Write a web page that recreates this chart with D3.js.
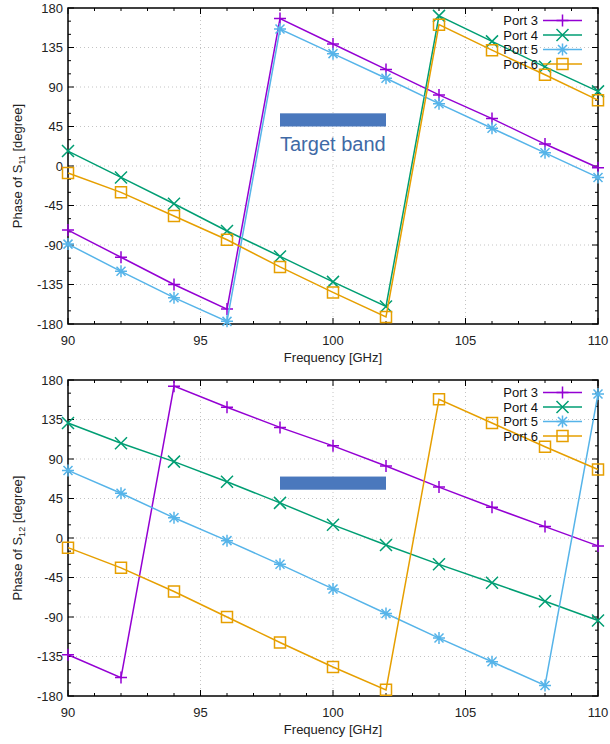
<!DOCTYPE html>
<html>
<head>
<meta charset="utf-8">
<script src="https://cdn.jsdelivr.net/npm/d3@7"></script>
<style>
  body { margin: 0; background: #fff; }
  text { font-family: "Liberation Sans", Arial, sans-serif; }
</style>
</head>
<body>
<div id="chart"></div>
<script>
///// DATA /////
const freqs = [90, 92, 94, 96, 98, 100, 102, 104, 106, 108, 110];
const ports = ["Port 3", "Port 4", "Port 5", "Port 6"];
const colors = ["#9400d3", "#009e73", "#56b4e9", "#e69f00"];
const markers = ["plus", "cross", "star", "square"];

// Phase of S11 (degree)
const s11Port3 = [-73, -104, -135, -163, 168, 139, 110, 81, 54, 25, -2];
const s11Port4 = [17, -13, -43, -74, -103, -132, -160, 171, 142, 113, 85];
const s11Port5 = [-89, -120, -150, -177, 156, 128, 100, 71, 43, 15, -13];
const s11Port6 = [-8, -30, -57, -84, -115, -144, -172, 161, 132, 104, 75];

// Phase of S12 (degree)
const s12Port3 = [-133, -159, 173, 149, 126, 105, 82, 58, 35, 13, -9];
const s12Port4 = [131, 108, 87, 64, 40, 15, -8, -30, -51, -72, -94];
const s12Port5 = [77, 51, 23, -3, -30, -58, -86, -114, -141, -168, 164];
const s12Port6 = [-11, -34, -61, -90, -119, -147, -173, 158, 131, 104, 78];

const xTicks = [90, 95, 100, 105, 110];
const yTicks = [180, 135, 90, 45, 0, -45, -90, -135, -180];

// target band (GHz range, degree range of the bar)
const bandFreq = [98, 102];
const bandS11 = [45, 60];
const bandS12 = [55, 70];

///// DRAWING /////
const width = 610, height = 744;
const margin = { left: 68, right: 12 };
const plotH = 316;

const svg = d3.select("#chart").append("svg")
    .attr("width", width)
    .attr("height", height);

const x = d3.scaleLinear().domain([90, 110]).range([margin.left, width - margin.right]);

function markerPath(type, s) {
    if (type === "plus") return `M${-s},0H${s}M0,${-s}V${s}`;
    if (type === "cross") return `M${-s},${-s}L${s},${s}M${-s},${s}L${s},${-s}`;
    if (type === "star") {
        const d = s * 0.75;
        return `M${-s},0H${s}M0,${-s}V${s}M${-d},${-d}L${d},${d}M${-d},${d}L${d},${-d}`;
    }
    return `M${-s},${-s}H${s}V${s}H${-s}Z`;
}

function drawPanel(top, series, sub, band, showText) {
    const y = d3.scaleLinear().domain([-180, 180]).range([top + plotH, top]);
    const g = svg.append("g");
    const x0 = x.range()[0], x1 = x.range()[1];

    // grid
    g.append("g").selectAll("line").data(xTicks.slice(1, -1)).join("line")
        .attr("x1", d => x(d)).attr("x2", d => x(d))
        .attr("y1", top).attr("y2", top + plotH)
        .attr("stroke", "#c4c4c4").attr("stroke-width", 1).attr("stroke-dasharray", "1,3");
    g.append("g").selectAll("line").data(yTicks.slice(1, -1)).join("line")
        .attr("x1", x0).attr("x2", x1)
        .attr("y1", d => y(d)).attr("y2", d => y(d))
        .attr("stroke", "#c4c4c4").attr("stroke-width", 1).attr("stroke-dasharray", "1,3");

    // axes with inward ticks, mirrored
    const xMinor = d3.range(90, 111, 1);
    const yMinor = d3.range(-180, 181, 15);
    const ax = g.append("g").attr("stroke", "#000").attr("stroke-width", 1);
    xMinor.forEach(f => {
        const len = f % 5 === 0 ? 6 : 3;
        ax.append("line").attr("x1", x(f)).attr("x2", x(f)).attr("y1", top + plotH).attr("y2", top + plotH - len);
        ax.append("line").attr("x1", x(f)).attr("x2", x(f)).attr("y1", top).attr("y2", top + len);
    });
    yMinor.forEach(v => {
        const len = v % 45 === 0 ? 6 : 3;
        ax.append("line").attr("x1", x0).attr("x2", x0 + len).attr("y1", y(v)).attr("y2", y(v));
        ax.append("line").attr("x1", x1).attr("x2", x1 - len).attr("y1", y(v)).attr("y2", y(v));
    });
    g.append("rect")
        .attr("x", x0).attr("y", top).attr("width", x1 - x0).attr("height", plotH)
        .attr("fill", "none").attr("stroke", "#000").attr("stroke-width", 1.5);

    // tick labels
    g.append("g").selectAll("text").data(xTicks).join("text")
        .attr("x", d => x(d)).attr("y", top + plotH + 21)
        .attr("text-anchor", "middle").attr("font-size", 13).attr("fill", "#222")
        .text(d => d);
    g.append("g").selectAll("text").data(yTicks).join("text")
        .attr("x", x0 - 5).attr("y", d => y(d)).attr("dy", "0.35em")
        .attr("text-anchor", "end").attr("font-size", 13).attr("fill", "#222")
        .text(d => d);

    // axis titles
    g.append("text")
        .attr("x", (x0 + x1) / 2).attr("y", top + plotH + 38)
        .attr("text-anchor", "middle").attr("font-size", 13).attr("fill", "#222")
        .text("Frequency [GHz]");
    const yl = g.append("text")
        .attr("transform", `translate(22,${top + plotH / 2}) rotate(-90)`)
        .attr("text-anchor", "middle").attr("font-size", 13).attr("fill", "#222");
    yl.append("tspan").text("Phase of S");
    yl.append("tspan").attr("font-size", 9).attr("dy", 3).text(sub);
    yl.append("tspan").attr("dy", -3).text(" [degree]");

    // target band
    g.append("rect")
        .attr("x", x(bandFreq[0])).attr("width", x(bandFreq[1]) - x(bandFreq[0]))
        .attr("y", y(band[1])).attr("height", y(band[0]) - y(band[1]))
        .attr("fill", "#4a78bd");
    if (showText) {
        g.append("text")
            .attr("x", x(bandFreq[0])).attr("y", y(band[0]) + 24)
            .attr("font-size", 20).attr("fill", "#3f6aa6")
            .text("Target band");
    }

    // series
    const line = d3.line().x((d, i) => x(freqs[i])).y(d => y(d));
    series.forEach((vals, k) => {
        g.append("path")
            .attr("d", line(vals))
            .attr("fill", "none").attr("stroke", colors[k]).attr("stroke-width", 1.5);
        g.append("g").selectAll("path").data(vals).join("path")
            .attr("transform", (d, i) => `translate(${x(freqs[i])},${y(d)})`)
            .attr("d", markerPath(markers[k], k === 3 ? 5.5 : 6))
            .attr("fill", "none").attr("stroke", colors[k]).attr("stroke-width", 1.5);
    });

    // legend (transparent, gnuplot style)
    const lg = g.append("g");
    ports.forEach((p, k) => {
        const ly = top + 12.5 + k * 14.5;
        lg.append("text")
            .attr("x", 538).attr("y", ly).attr("dy", "0.35em")
            .attr("text-anchor", "end").attr("font-size", 13).attr("fill", "#111")
            .text(p);
        lg.append("line")
            .attr("x1", 543).attr("x2", 582).attr("y1", ly).attr("y2", ly)
            .attr("stroke", colors[k]).attr("stroke-width", 1.5);
        lg.append("path")
            .attr("transform", `translate(562.5,${ly})`)
            .attr("d", markerPath(markers[k], k === 3 ? 5.5 : 6))
            .attr("fill", "none").attr("stroke", colors[k]).attr("stroke-width", 1.5);
    });
}

drawPanel(8, [s11Port3, s11Port4, s11Port5, s11Port6], "11", bandS11, true);
drawPanel(380, [s12Port3, s12Port4, s12Port5, s12Port6], "12", bandS12, false);
</script>
</body>
</html>
